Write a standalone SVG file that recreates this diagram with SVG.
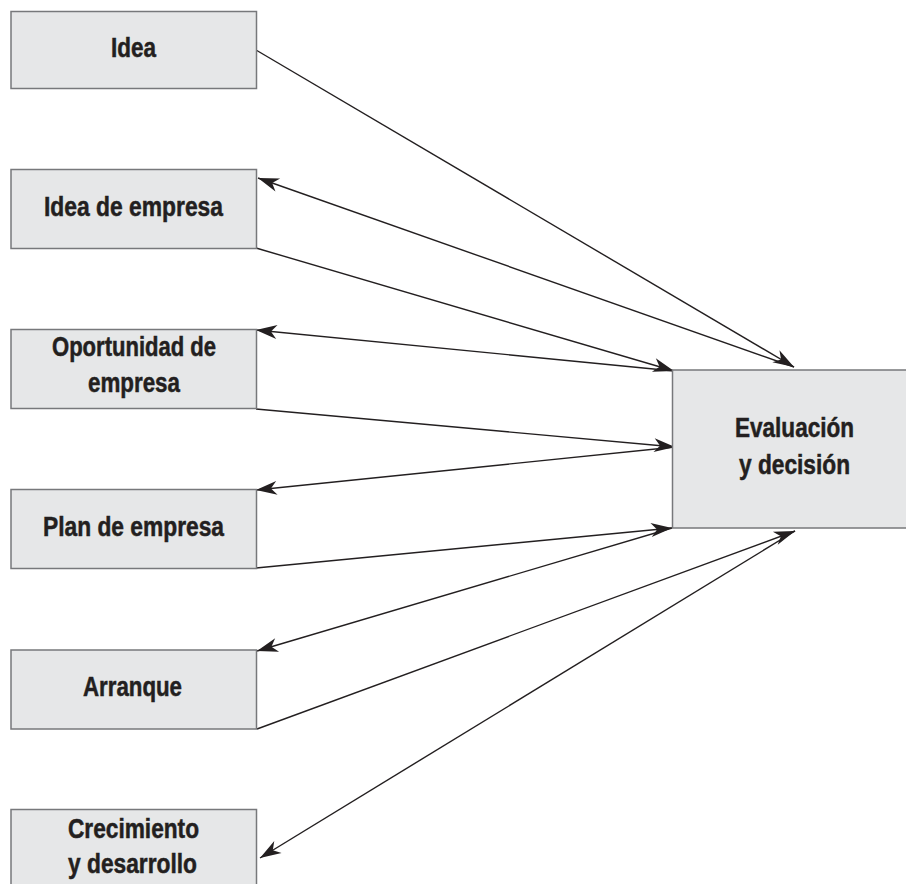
<svg xmlns="http://www.w3.org/2000/svg" width="906" height="884" viewBox="0 0 906 884">
<style>
.box{fill:#e6e7e8;stroke:#77787b;stroke-width:1.5}
.lbl{font-family:"Liberation Sans",Arial,sans-serif;font-weight:bold;font-size:27px;fill:#231f20;stroke:#231f20;stroke-width:0.5}
.con{stroke:#231f20;stroke-width:1.4;fill:none;marker-end:url(#ah)}
</style>
<defs>
<marker id="ah" markerUnits="userSpaceOnUse" viewBox="-22 -9 24 18" refX="0" refY="0" markerWidth="24" markerHeight="18" orient="auto">
<path d="M0,0 L-21,-7 L-15,0 L-21,7 Z" fill="#231f20"/>
</marker>
</defs>
<rect width="906" height="884" fill="#ffffff"/>
<g id="connectors">
<line class="con" x1="256" y1="50" x2="794" y2="367"/>
<line class="con" x1="794" y1="367" x2="258" y2="178"/>
<line class="con" x1="256" y1="248" x2="674" y2="371"/>
<line class="con" x1="674" y1="371" x2="256" y2="330"/>
<line class="con" x1="256" y1="409" x2="675" y2="447"/>
<line class="con" x1="675" y1="447" x2="256" y2="490"/>
<line class="con" x1="256" y1="568" x2="672" y2="528"/>
<line class="con" x1="672" y1="528" x2="257" y2="651"/>
<line class="con" x1="257" y1="729" x2="795" y2="531"/>
<line class="con" x1="795" y1="531" x2="260" y2="858"/>
</g>
<g id="idea">
<rect class="box" x="11" y="11.5" width="245.5" height="77"/>
<text class="lbl" x="111" y="57" textLength="45" lengthAdjust="spacingAndGlyphs">Idea</text>
</g>
<g id="idea-empresa">
<rect class="box" x="11" y="169.5" width="245.5" height="79"/>
<text class="lbl" x="44" y="216" textLength="179" lengthAdjust="spacingAndGlyphs">Idea de empresa</text>
</g>
<g id="oportunidad">
<rect class="box" x="11" y="329.5" width="245.5" height="79"/>
<text class="lbl" x="52" y="356" textLength="164" lengthAdjust="spacingAndGlyphs">Oportunidad de</text>
<text class="lbl" x="88" y="392" textLength="92" lengthAdjust="spacingAndGlyphs">empresa</text>
</g>
<g id="plan">
<rect class="box" x="11" y="489.5" width="245.5" height="79"/>
<text class="lbl" x="43" y="536" textLength="181" lengthAdjust="spacingAndGlyphs">Plan de empresa</text>
</g>
<g id="arranque">
<rect class="box" x="11" y="650" width="245.5" height="79"/>
<text class="lbl" x="83" y="696" textLength="99" lengthAdjust="spacingAndGlyphs">Arranque</text>
</g>
<g id="crecimiento">
<rect class="box" x="11" y="809.5" width="245.5" height="80"/>
<text class="lbl" x="68" y="838" textLength="131" lengthAdjust="spacingAndGlyphs">Crecimiento</text>
<text class="lbl" x="68" y="873" textLength="129" lengthAdjust="spacingAndGlyphs">y desarrollo</text>
</g>
<g id="evaluacion">
<rect class="box" x="672.5" y="370" width="246" height="158"/>
<text class="lbl" x="735" y="437" textLength="119" lengthAdjust="spacingAndGlyphs">Evaluación</text>
<text class="lbl" x="739" y="474" textLength="111" lengthAdjust="spacingAndGlyphs">y decisión</text>
</g>
</svg>
